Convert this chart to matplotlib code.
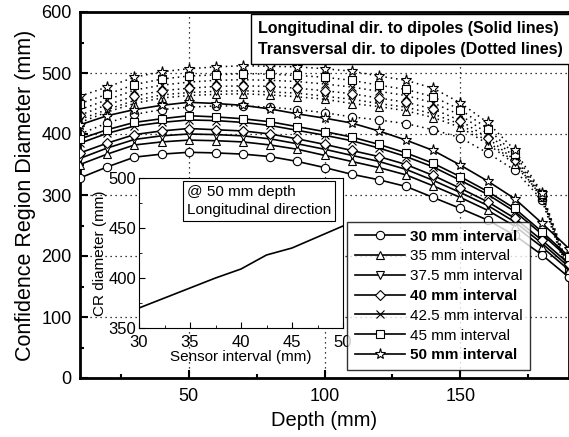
import matplotlib
matplotlib.use("Agg")
import matplotlib.pyplot as plt
from matplotlib.ticker import MultipleLocator

plt.rcParams['font.family'] = ['Liberation Sans', 'DejaVu Sans']

depth = [10, 20, 30, 40, 50, 60, 70, 80, 90, 100, 110, 120, 130, 140, 150, 160, 170, 180, 190]

labels = ['30 mm interval', '35 mm interval', '37.5 mm interval', '40 mm interval',
          '42.5 mm interval', '45 mm interval', '50 mm interval']
bold = [True, False, False, True, False, False, True]
markers = ['o', '^', 'v', 'D', 'x', 's', '*']

# Longitudinal (solid)
s30 = [328, 346, 362, 367, 370, 369, 367, 363, 355, 345, 334, 325, 314, 296, 278, 259, 234, 202, 165]
s35 = [350, 367, 382, 387, 390, 389, 387, 382, 375, 365, 355, 345, 333, 315, 296, 275, 249, 215, 177]
s375 = [360, 377, 391, 397, 400, 399, 397, 392, 384, 375, 365, 355, 342, 324, 304, 283, 256, 221, 182]
s40 = [369, 385, 399, 405, 409, 407, 405, 400, 392, 383, 373, 363, 350, 332, 311, 289, 262, 226, 187]
s425 = [385, 401, 413, 419, 423, 422, 419, 414, 406, 398, 389, 377, 363, 346, 324, 301, 273, 236, 196]
s45 = [392, 407, 419, 425, 430, 428, 425, 420, 412, 404, 395, 383, 369, 352, 330, 306, 278, 240, 199]
s50 = [415, 430, 440, 447, 452, 450, 447, 441, 433, 426, 418, 405, 390, 373, 349, 323, 294, 254, 212]

# Transversal (dotted)
d30 = [400, 418, 432, 440, 444, 446, 446, 444, 440, 435, 428, 423, 417, 407, 394, 369, 341, 292, 165]
d35 = [419, 436, 450, 459, 463, 465, 466, 464, 461, 457, 450, 445, 438, 427, 411, 384, 351, 296, 170]
d375 = [424, 440, 455, 464, 468, 470, 471, 469, 467, 462, 457, 450, 444, 433, 416, 388, 354, 297, 171]
d40 = [431, 448, 462, 471, 475, 478, 479, 478, 475, 471, 466, 459, 452, 441, 422, 394, 357, 298, 172]
d425 = [440, 456, 472, 480, 485, 488, 489, 488, 486, 482, 477, 470, 463, 451, 431, 401, 362, 300, 175]
d45 = [450, 465, 481, 490, 495, 497, 499, 498, 496, 493, 488, 480, 473, 461, 440, 409, 367, 302, 177]
d50 = [462, 477, 493, 502, 507, 510, 512, 511, 510, 507, 503, 495, 488, 475, 451, 419, 374, 304, 180]

solid = [s30, s35, s375, s40, s425, s45, s50]
dotted = [d30, d35, d375, d40, d425, d45, d50]

# Inset data
interval = [30, 35, 37.5, 40, 42.5, 45, 50]
cr_diam = [370, 390, 400, 409, 423, 430, 452]

fig = plt.figure(figsize=(5.69, 4.37), dpi=100)
ax = fig.add_axes([80/569, 1-378/437, 489/569, 366/437])

for yv in [100, 200, 300, 400, 500]:
    ax.axhline(yv, color='black', ls=(0, (1, 3)), lw=0.9, zorder=0)
for xv in [50, 100, 150]:
    ax.axvline(xv, color='black', ls=(0, (1, 3)), lw=0.9, zorder=0)

handles = []
for i in range(7):
    ms = 8 if markers[i] == '*' else 6
    if markers[i] == 'D':
        ms = 5.5
    ax.plot(depth, dotted[i], ls=(0, (1, 2.5)), color='black', lw=1.1,
            marker=markers[i], ms=ms, mfc='white', mec='black', mew=0.8, zorder=2)
    h, = ax.plot(depth, solid[i], ls='-', color='black', lw=1.2,
                 marker=markers[i], ms=ms, mfc='white', mec='black', mew=0.8, zorder=3)
    handles.append(h)

ax.set_xlim(10, 190)
ax.set_ylim(0, 600)
ax.xaxis.set_major_locator(MultipleLocator(50))
ax.xaxis.set_minor_locator(MultipleLocator(25))
ax.yaxis.set_major_locator(MultipleLocator(100))
ax.yaxis.set_minor_locator(MultipleLocator(50))
ax.tick_params(which='both', direction='in', width=1.5, labelsize=13)
ax.tick_params(axis='y', which='both', pad=6)
ax.tick_params(axis='x', which='both', pad=7.5)
ax.tick_params(which='major', length=6)
ax.tick_params(which='minor', length=3)
for sp in ax.spines.values():
    sp.set_linewidth(2)
ax.set_xlabel('Depth (mm)', fontsize=14.5, labelpad=4)
ax.set_ylabel('Confidence Region Diameter (mm)', fontsize=15.5, labelpad=4)

leg = fig.legend(handles, labels, loc='lower left',
                 bbox_to_anchor=(347/569, 1-370/437), fontsize=11,
                 frameon=True, fancybox=False, edgecolor='black',
                 handlelength=3.3, labelspacing=0.38, borderpad=0.5,
                 handletextpad=0.3, borderaxespad=0)
leg.get_frame().set_linewidth(1.0)
for t, b in zip(leg.get_texts(), bold):
    if b:
        t.set_fontweight('bold')

fig.text(258/569, 1-39/437,
         'Longitudinal dir. to dipoles (Solid lines)\nTransversal dir. to dipoles (Dotted lines)',
         fontsize=11.5, fontweight='bold', va='center', ha='left', linespacing=1.5,
         bbox=dict(boxstyle='square,pad=0.45', fc='white', ec='black', lw=1.0))

# Inset
ins = fig.add_axes([139/569, 1-328/437, 204/569, 150/437])
ins.plot(interval, cr_diam, color='black', lw=1.2)
ins.set_xlim(30, 50)
ins.set_ylim(350, 500)
ins.xaxis.set_major_locator(MultipleLocator(5))
ins.xaxis.set_minor_locator(MultipleLocator(2.5))
ins.yaxis.set_major_locator(MultipleLocator(50))
ins.yaxis.set_minor_locator(MultipleLocator(25))
ins.tick_params(which='both', direction='in', labelsize=12)
ins.tick_params(axis='y', which='both', pad=2)
ins.tick_params(axis='x', which='both', pad=5)
ins.tick_params(which='major', length=4)
ins.tick_params(which='minor', length=2)
ins.set_xlabel('Sensor interval (mm)', fontsize=11, labelpad=0)
ins.set_ylabel('CR diameter (mm)', fontsize=11, labelpad=1)
ins.text(0.235, 0.955, '@ 50 mm depth\nLongitudinal direction', transform=ins.transAxes,
         fontsize=11, va='top', ha='left', linespacing=1.4,
         bbox=dict(boxstyle='square,pad=0.25', fc='white', ec='black', lw=0.8))

fig.savefig('out.png', dpi=100)
